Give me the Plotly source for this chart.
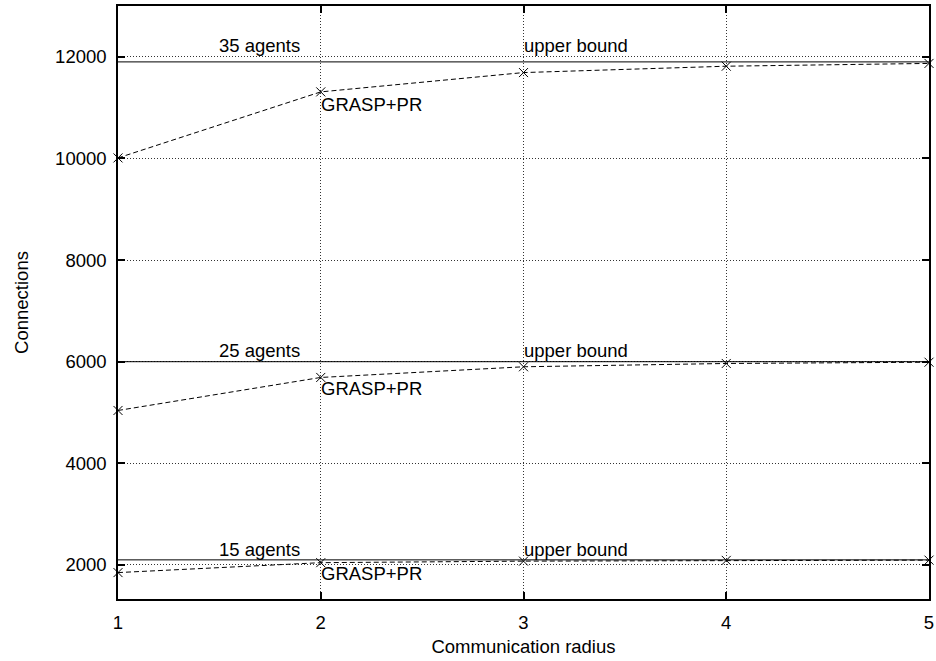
import plotly.graph_objects as go

radius = [1, 2, 3, 4, 5]

conn_15 = [1850, 2045, 2075, 2090, 2095]
conn_25 = [5040, 5690, 5900, 5965, 5990]
conn_35 = [10010, 11310, 11690, 11815, 11870]

bound_15 = 2100
bound_25 = 6000
bound_35 = 11900

agent_labels = ["15 agents", "25 agents", "35 agents"]
bound_label = "upper bound"
series_label = "GRASP+PR"

y_ticks = [2000, 4000, 6000, 8000, 10000, 12000]
x_ticks = [1, 2, 3, 4, 5]

FONT = "Liberation Sans, Arial, Helvetica, sans-serif"
FS = 18.5

fig = go.Figure()

series = [(conn_15, bound_15), (conn_25, bound_25), (conn_35, bound_35)]
for vals, bound in series:
    fig.add_trace(go.Scatter(
        x=[radius[0], radius[-1]], y=[bound, bound], mode="lines",
        line=dict(color="black", width=1), showlegend=False, hoverinfo="skip",
        cliponaxis=False))
    fig.add_trace(go.Scatter(
        x=radius, y=vals, mode="lines+markers",
        line=dict(color="black", width=1, dash="5px,3px"),
        marker=dict(symbol="x-thin", size=9, color="black",
                    line=dict(color="black", width=1)),
        showlegend=False, cliponaxis=False))

# text labels (positions in data coordinates)
label_pos = [
    (agent_labels[0], 1.5, 2308), (bound_label, 3, 2308), (series_label, 2, 1836),
    (agent_labels[1], 1.5, 6213), (bound_label, 3, 6213), (series_label, 2, 5478),
    (agent_labels[2], 1.5, 12230), (bound_label, 3, 12230), (series_label, 2, 11070),
]
for txt, x, y in label_pos:
    fig.add_annotation(x=x, y=y, text=txt, showarrow=False, xanchor="left",
                       yanchor="middle", xshift=-2,
                       font=dict(family=FONT, size=FS, color="black"))

axis_common = dict(
    showline=True, linecolor="black", linewidth=1.5, mirror="ticks",
    ticks="inside", ticklen=7, tickwidth=1.5, tickcolor="black",
    showgrid=True, gridcolor="#333", gridwidth=1, griddash="1px,2px",
    zeroline=False, tickfont=dict(family=FONT, size=FS, color="black"),
)

fig.update_xaxes(range=[1, 5], tickvals=x_ticks, ticklabelstandoff=6,
                 title=dict(text="Communication radius", standoff=8,
                            font=dict(family=FONT, size=FS, color="black")),
                 **axis_common)
fig.update_yaxes(range=[1330, 13000], tickvals=y_ticks, tickformat="d",
                 ticklabelstandoff=6,
                 title=dict(text="Connections", standoff=22,
                            font=dict(family=FONT, size=FS, color="black")),
                 **axis_common)

fig.update_layout(
    width=936, height=661,
    margin=dict(l=117.5, r=7, t=5.5, b=62, autoexpand=False),
    plot_bgcolor="white", paper_bgcolor="white",
    font=dict(family=FONT, size=FS, color="black"),
)

fig.write_html("out.html", config={"displayModeBar": False},
               post_script="document.body.style.margin='0';document.body.style.padding='0';")
